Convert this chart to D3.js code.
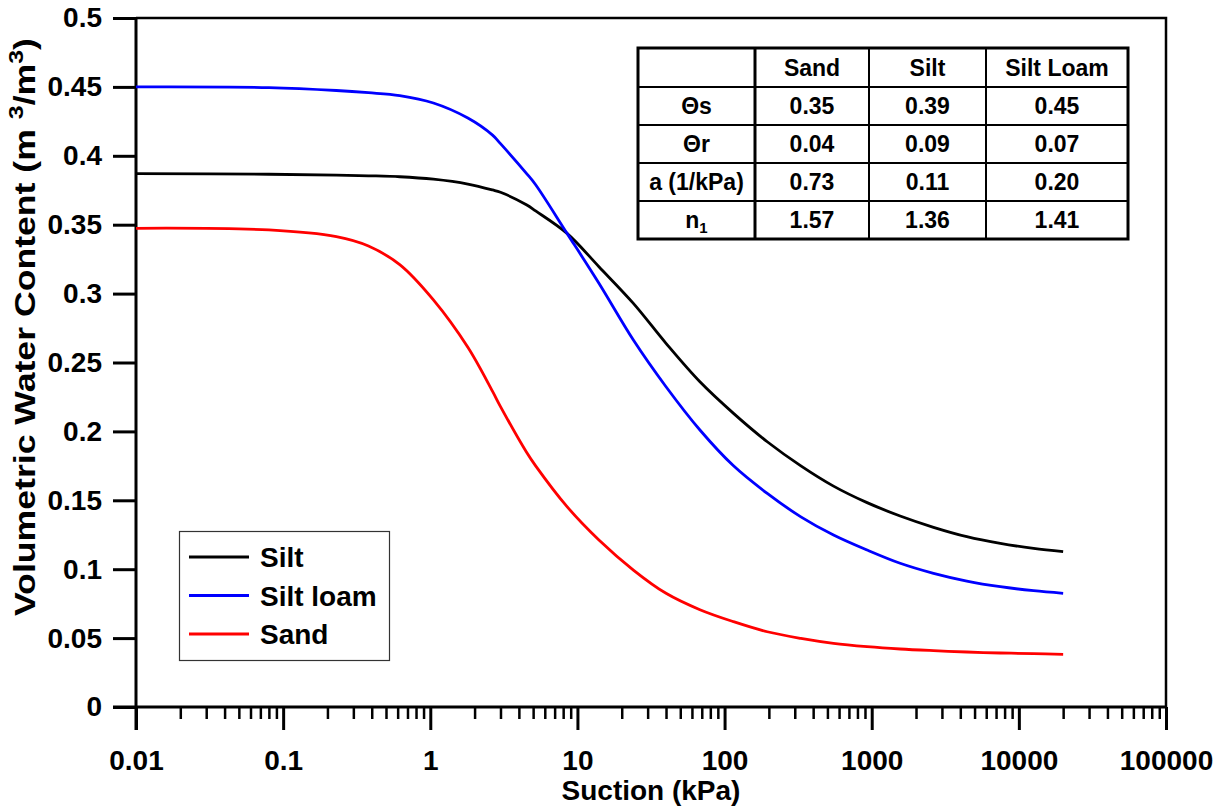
<!DOCTYPE html>
<html>
<head>
<meta charset="utf-8">
<script src="https://cdn.jsdelivr.net/npm/d3@7/dist/d3.min.js"></script>
<style>
  html, body { margin: 0; padding: 0; background: #fff; }
  svg { display: block; font-family: "Liberation Sans", Arial, sans-serif; font-weight: bold; }
</style>
</head>
<body>
<svg id="chart" width="1226" height="811"></svg>
<script>
// Soil-water characteristic curves (suction in kPa, volumetric water content in m3/m3)
const suction = [0.01, 0.08, 0.23, 0.38, 0.62, 1.05, 1.8, 2.65, 3.0, 4.5, 5.2, 8.5, 14, 24, 40, 68,
                 115, 195, 330, 550, 930, 1560, 2630, 4430, 7480, 12600, 20000];
const siltValues = [0.387, 0.3866, 0.386, 0.3855, 0.3848, 0.383, 0.3795, 0.3752, 0.3735, 0.3645, 0.3600, 0.3437,
                    0.3195, 0.2929, 0.2639, 0.2360, 0.2131, 0.1925, 0.1750, 0.1603, 0.1483, 0.1386, 0.1304,
                    0.1236, 0.1187, 0.1151, 0.1127];
const siltLoamValues = [0.450, 0.4495, 0.4474, 0.4458, 0.4437, 0.4383, 0.4274, 0.4150, 0.4088, 0.3873, 0.3790, 0.3437,
                        0.3075, 0.2663, 0.2324, 0.2010, 0.1750, 0.1550, 0.1380, 0.1248, 0.1139, 0.1043, 0.0970,
                        0.0914, 0.0873, 0.0844, 0.0825];
const sandValues = [0.3474, 0.3462, 0.3413, 0.3345, 0.3210, 0.2954, 0.2610, 0.2290, 0.2180, 0.1850, 0.1750, 0.1454,
                    0.1212, 0.0994, 0.0825, 0.0706, 0.0619, 0.0546, 0.0498, 0.0462, 0.0438, 0.0421, 0.0409,
                    0.0399, 0.0392, 0.0387, 0.0382];

const seriesNames = ["Silt", "Silt loam", "Sand"];
const seriesColors = ["#000000", "#0000ff", "#ff0000"];
const seriesValues = [siltValues, siltLoamValues, sandValues];

const xTickValues = [0.01, 0.1, 1, 10, 100, 1000, 10000, 100000];
const xTickLabels = ["0.01", "0.1", "1", "10", "100", "1000", "10000", "100000"];
const yTickValues = [0, 0.05, 0.1, 0.15, 0.2, 0.25, 0.3, 0.35, 0.4, 0.45, 0.5];
const yTickLabels = ["0", "0.05", "0.1", "0.15", "0.2", "0.25", "0.3", "0.35", "0.4", "0.45", "0.5"];

// van Genuchten parameter table
const tableColumns = ["Sand", "Silt", "Silt Loam"];
const tableRowNames = ["Θs", "Θr", "a (1/kPa)", "n"];
const tableValues = [
  ["0.35", "0.39", "0.45"],
  ["0.04", "0.09", "0.07"],
  ["0.73", "0.11", "0.20"],
  ["1.57", "1.36", "1.41"]
];

const svg = d3.select("#chart");
const plotLeft = 136, plotRight = 1166, plotTop = 18, plotBottom = 707;

const x = d3.scaleLog().domain([0.01, 100000]).range([plotLeft, plotRight]);
const y = d3.scaleLinear().domain([0, 0.5]).range([plotBottom, plotTop]);

// Frame (top and right)
svg.append("path")
  .attr("d", `M${plotLeft},${plotTop}H${plotRight}V${plotBottom}`)
  .attr("fill", "none").attr("stroke", "#000").attr("stroke-width", 2.5);

// Minor x ticks
const minorTicks = [];
for (let e = -2; e < 5; e++) for (let k = 2; k <= 9; k++) minorTicks.push(k * Math.pow(10, e));
svg.append("g")
  .attr("transform", `translate(0,${plotBottom})`)
  .call(d3.axisBottom(x).tickValues(minorTicks).tickSize(12).tickFormat(""))
  .call(g => g.select(".domain").remove())
  .call(g => g.selectAll(".tick line").attr("stroke-width", 2.5));

// Major x axis
const xAxis = svg.append("g")
  .attr("transform", `translate(0,${plotBottom})`)
  .call(d3.axisBottom(x).tickValues(xTickValues).tickSize(23).tickPadding(20)
        .tickFormat((d, i) => xTickLabels[i]));
xAxis.select(".domain").remove();
xAxis.selectAll(".tick line").attr("stroke-width", 3);
xAxis.selectAll(".tick text").attr("font-size", 28).attr("fill", "#000");
xAxis.attr("font-family", null).attr("font-size", null);
svg.append("line").attr("x1", plotLeft - 23).attr("x2", plotRight).attr("y1", plotBottom).attr("y2", plotBottom)
  .attr("stroke", "#000").attr("stroke-width", 3);

// Y axis
const yAxis = svg.append("g")
  .attr("transform", `translate(${plotLeft},0)`)
  .call(d3.axisLeft(y).tickValues(yTickValues).tickSize(23).tickPadding(11)
        .tickFormat((d, i) => yTickLabels[i]));
yAxis.select(".domain").remove();
yAxis.selectAll(".tick line").attr("stroke-width", 3);
yAxis.selectAll(".tick text").attr("font-size", 28).attr("fill", "#000");
yAxis.attr("font-family", null).attr("font-size", null);
svg.append("line").attr("x1", plotLeft).attr("x2", plotLeft).attr("y1", plotTop).attr("y2", plotBottom + 23)
  .attr("stroke", "#000").attr("stroke-width", 3);

// Axis titles
svg.append("text")
  .attr("x", 651).attr("y", 800).attr("text-anchor", "middle").attr("font-size", 28)
  .text("Suction (kPa)");

const yTitle = svg.append("text")
  .attr("transform", "translate(35,327) rotate(-90)")
  .attr("text-anchor", "middle").attr("font-size", 30)
  .attr("textLength", 578).attr("lengthAdjust", "spacingAndGlyphs");
yTitle.append("tspan").text("Volumetric Water Content (m ");
yTitle.append("tspan").attr("font-size", 21).attr("dy", -12).text("3");
yTitle.append("tspan").attr("dy", 12).text("/m");
yTitle.append("tspan").attr("font-size", 21).attr("dy", -12).text("3");
yTitle.append("tspan").attr("dy", 12).text(")");

// Curves
const line = d3.line()
  .x((d, i) => x(suction[i]))
  .y(d => y(d))
  .curve(d3.curveCatmullRom.alpha(0.5));

seriesValues.forEach((vals, s) => {
  svg.append("path")
    .datum(vals)
    .attr("d", line)
    .attr("fill", "none")
    .attr("stroke", seriesColors[s])
    .attr("stroke-width", 2.8)
    .attr("stroke-linejoin", "round");
});

// Legend
const legend = svg.append("g");
legend.append("rect").attr("x", 179.5).attr("y", 531.5).attr("width", 210).attr("height", 129)
  .attr("fill", "#fff").attr("stroke", "#333").attr("stroke-width", 1.2);
seriesNames.forEach((name, i) => {
  const ly = 557 + i * 38.5;
  legend.append("line").attr("x1", 189).attr("x2", 249).attr("y1", ly).attr("y2", ly)
    .attr("stroke", seriesColors[i]).attr("stroke-width", 3);
  legend.append("text").attr("x", 260).attr("y", ly + 10).attr("font-size", 28).text(name);
});

// Parameter table
const colEdges = [638, 755, 869, 986, 1128];
const rowEdges = [48, 87, 125, 163, 201, 239];
const table = svg.append("g");
table.append("rect")
  .attr("x", colEdges[0]).attr("y", rowEdges[0])
  .attr("width", colEdges[4] - colEdges[0]).attr("height", rowEdges[5] - rowEdges[0])
  .attr("fill", "#fff");
rowEdges.slice(1, -1).forEach(ry => {
  table.append("line").attr("x1", colEdges[0]).attr("x2", colEdges[4]).attr("y1", ry).attr("y2", ry)
    .attr("stroke", "#000").attr("stroke-width", 2);
});
colEdges.slice(1, -1).forEach((cx, i) => {
  table.append("line").attr("x1", cx).attr("x2", cx).attr("y1", rowEdges[0]).attr("y2", rowEdges[5])
    .attr("stroke", "#000").attr("stroke-width", i === 0 ? 3 : 2);
});
table.append("rect")
  .attr("x", colEdges[0]).attr("y", rowEdges[0])
  .attr("width", colEdges[4] - colEdges[0]).attr("height", rowEdges[5] - rowEdges[0])
  .attr("fill", "none").attr("stroke", "#000").attr("stroke-width", 3);

const cellCx = i => (colEdges[i] + colEdges[i + 1]) / 2;
const cellCy = j => (rowEdges[j] + rowEdges[j + 1]) / 2;
tableColumns.forEach((c, i) => {
  table.append("text").attr("x", cellCx(i + 1)).attr("y", cellCy(0) + 8)
    .attr("text-anchor", "middle").attr("font-size", 23).text(c);
});
tableRowNames.forEach((r, j) => {
  const t = table.append("text").attr("x", cellCx(0)).attr("y", cellCy(j + 1) + 8)
    .attr("text-anchor", "middle").attr("font-size", 23);
  t.append("tspan").text(r);
  if (r === "n") t.append("tspan").attr("font-size", 15).attr("dy", 5).text("1");
  tableValues[j].forEach((v, i) => {
    table.append("text").attr("x", cellCx(i + 1)).attr("y", cellCy(j + 1) + 8)
      .attr("text-anchor", "middle").attr("font-size", 23).text(v);
  });
});
</script>
</body>
</html>
